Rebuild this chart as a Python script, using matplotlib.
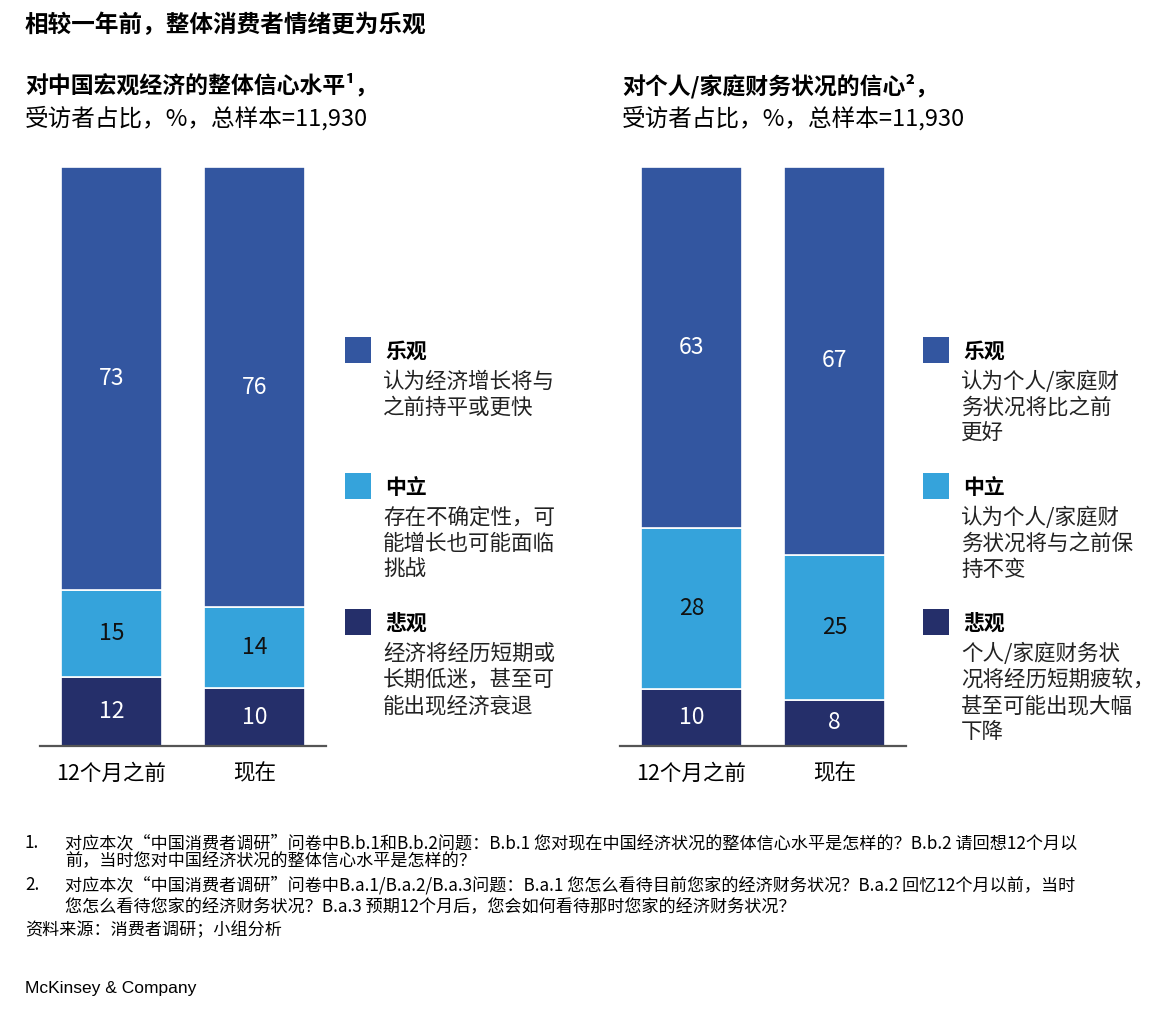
import matplotlib
matplotlib.use("Agg")
import matplotlib.pyplot as plt
from matplotlib.patches import Rectangle

plt.rcParams['font.family'] = ['Noto Sans CJK SC', 'DejaVu Sans']

# 数据
periods = ["12个月之前", "现在"]
macro_pess = [12, 10]
macro_neut = [15, 14]
macro_opt = [73, 76]
home_pess = [10, 8]
home_neut = [28, 25]
home_opt = [63, 67]

c_opt = "#3356A0"
c_neut = "#35A3DB"
c_pess = "#252F6A"

W, H = 1166, 1016
fig = plt.figure(figsize=(W / 100, H / 100), dpi=100)


def px(x, y):
    return x / W, 1 - y / H


def draw_bars(left_px, pess, neut, opt):
    ax = fig.add_axes([left_px / W, 1 - 746 / H, 286 / W, 579 / H])
    tot = [a + b + c for a, b, c in zip(pess, neut, opt)]
    # 按总数归一化，让每根柱子都到顶
    hp = [v / t * 100 for v, t in zip(pess, tot)]
    hn = [v / t * 100 for v, t in zip(neut, tot)]
    ho = [v / t * 100 for v, t in zip(opt, tot)]
    x = range(len(periods))
    b1 = ax.bar(x, hp, width=0.71, color=c_pess, edgecolor="white", linewidth=1.2)
    b2 = ax.bar(x, hn, width=0.71, bottom=hp, color=c_neut, edgecolor="white", linewidth=1.2)
    bot = [a + b for a, b in zip(hp, hn)]
    b3 = ax.bar(x, ho, width=0.71, bottom=bot, color=c_opt, edgecolor="white", linewidth=1.2)
    ax.bar_label(b1, labels=[str(v) for v in pess], label_type="center", color="white", fontsize=16.5)
    ax.bar_label(b2, labels=[str(v) for v in neut], label_type="center", color="#111111", fontsize=16.5)
    ax.bar_label(b3, labels=[str(v) for v in opt], label_type="center", color="white", fontsize=16.5)
    ax.set_xlim(-0.5, 1.5)
    ax.set_ylim(0, 100)
    for s in ["top", "right", "left"]:
        ax.spines[s].set_visible(False)
    ax.spines["bottom"].set_color("#555555")
    ax.spines["bottom"].set_linewidth(1.6)
    ax.set_yticks([])
    ax.set_xticks(list(x))
    ax.set_xticklabels(periods, fontsize=15.5)
    ax.tick_params(axis="x", length=0, pad=12)
    return ax


draw_bars(40, macro_pess, macro_neut, macro_opt)
draw_bars(620, home_pess, home_neut, home_opt)

# 标题
fig.text(*px(25, 25), "相较一年前，整体消费者情绪更为乐观", fontsize=17, fontweight="bold", va="center")
fig.text(*px(25, 86), "对中国宏观经济的整体信心水平¹，", fontsize=16.5, fontweight="bold", va="center")
fig.text(*px(25, 118), "受访者占比，%，总样本=11,930", fontsize=17, va="center")
fig.text(*px(622, 86), "对个人/家庭财务状况的信心²，", fontsize=16.5, fontweight="bold", va="center")
fig.text(*px(622, 118), "受访者占比，%，总样本=11,930", fontsize=17, va="center")

# 图例
leg_names = ["乐观", "中立", "悲观"]
leg_colors = [c_opt, c_neut, c_pess]
leg_y = [351, 487, 623]
left_desc = [
    ["认为经济增长将与", "之前持平或更快"],
    ["存在不确定性，可", "能增长也可能面临", "挑战"],
    ["经济将经历短期或", "长期低迷，甚至可", "能出现经济衰退"],
]
right_desc = [
    ["认为个人/家庭财", "务状况将比之前", "更好"],
    ["认为个人/家庭财", "务状况将与之前保", "持不变"],
    ["个人/家庭财务状", "况将经历短期疲软，", "甚至可能出现大幅", "下降"],
]


def draw_legend(sq_x, descs):
    for name, col, y0, lines in zip(leg_names, leg_colors, leg_y, descs):
        fig.add_artist(Rectangle(px(sq_x, y0 + 12), 26 / W, 26 / H, transform=fig.transFigure,
                                 facecolor=col, edgecolor="none"))
        fig.text(*px(sq_x + 40, y0), name, fontsize=15, fontweight="bold", va="center")
        for i, ln in enumerate(lines):
            fig.text(*px(sq_x + 38, y0 + 31 + 26 * i), ln, fontsize=15.5, va="center", color="#222222")


draw_legend(345, left_desc)
draw_legend(923, right_desc)

# 脚注
fn = 12.3
fig.text(*px(25, 843), "1.", fontsize=fn, va="center")
fig.text(*px(65, 843), "对应本次“中国消费者调研”问卷中B.b.1和B.b.2问题：B.b.1 您对现在中国经济状况的整体信心水平是怎样的？B.b.2 请回想12个月以",
         fontsize=fn, va="center")
fig.text(*px(65, 861), "前，当时您对中国经济状况的整体信心水平是怎样的？", fontsize=fn, va="center")
fig.text(*px(25, 885), "2.", fontsize=fn, va="center")
fig.text(*px(65, 885), "对应本次“中国消费者调研”问卷中B.a.1/B.a.2/B.a.3问题：B.a.1 您怎么看待目前您家的经济财务状况？B.a.2 回忆12个月以前，当时",
         fontsize=fn, va="center")
fig.text(*px(65, 907), "您怎么看待您家的经济财务状况？B.a.3 预期12个月后，您会如何看待那时您家的经济财务状况？", fontsize=fn, va="center")
fig.text(*px(25, 930), "资料来源：消费者调研；小组分析", fontsize=fn, va="center")
fig.text(*px(25, 989), "McKinsey & Company", fontsize=12.5, va="center", family=["Liberation Sans", "DejaVu Sans"])

fig.savefig("out.png", dpi=100, facecolor="white")
